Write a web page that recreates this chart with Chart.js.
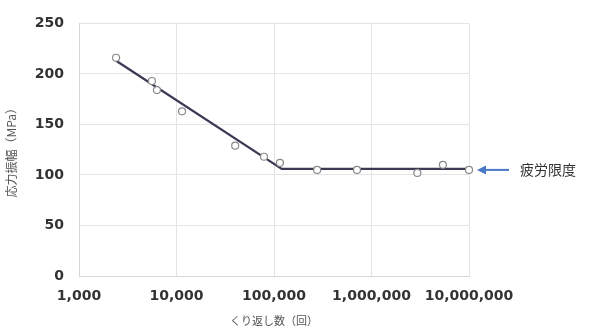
<!DOCTYPE html>
<html lang="ja">
<head>
    <meta charset="UTF-8">
    <title>S-N曲線</title>
    <script src="https://cdn.jsdelivr.net/npm/chart.js@4.4.1/dist/chart.umd.min.js"></script>
    <style>
        body {
            margin: 0;
            background: #ffffff;
        }
        .chart-box {
            width: 593px;
            height: 327px;
        }
    </style>
</head>
<body>
    <div class="chart-box">
        <canvas id="snChart"></canvas>
    </div>

    <script>
        // 試験データ（くり返し数, 応力振幅）
        const testCycles = [2400, 5600, 6300, 11400, 40000, 79000, 115000, 277000, 710000, 2950000, 5400000, 10000000];
        const testStress = [216, 193, 184, 163, 129, 118, 112, 105, 105, 102, 110, 105];

        // S-N曲線（折れ線）
        const curveCycles = [2400, 120000, 10000000];
        const curveStress = [213, 106, 106];

        const fatigueLimit = 106;
        const fatigueLabel = '疲労限度';

        const yTicks = [0, 50, 100, 150, 200, 250];
        const xTicks = [1000, 10000, 100000, 1000000, 10000000];

        const tickFont = { family: 'DejaVu Sans', size: 14, weight: 'bold' };

        // 矢印と「疲労限度」の注記
        const limitArrow = {
            id: 'limitArrow',
            afterDraw(chart) {
                const ctx = chart.ctx;
                const area = chart.chartArea;
                const y = chart.scales.y.getPixelForValue(fatigueLimit) + 1;
                const x0 = area.right + 8;
                const x1 = area.right + 40;
                ctx.save();
                ctx.strokeStyle = '#4a78c8';
                ctx.fillStyle = '#4a78c8';
                ctx.lineWidth = 2;
                ctx.beginPath();
                ctx.moveTo(x0 + 6, y);
                ctx.lineTo(x1, y);
                ctx.stroke();
                ctx.beginPath();
                ctx.moveTo(x0, y);
                ctx.lineTo(x0 + 9, y - 4.5);
                ctx.lineTo(x0 + 9, y + 4.5);
                ctx.closePath();
                ctx.fill();
                ctx.fillStyle = '#333333';
                ctx.font = '14px "Noto Sans CJK JP"';
                ctx.textBaseline = 'middle';
                ctx.fillText(fatigueLabel, area.right + 51, y);
                ctx.restore();
            }
        };

        new Chart(document.getElementById('snChart'), {
            type: 'scatter',
            data: {
                datasets: [
                    {
                        label: 'S-N曲線',
                        data: curveCycles.map((c, i) => ({ x: c, y: curveStress[i] })),
                        showLine: true,
                        borderColor: '#3a3a55',
                        borderWidth: 2.2,
                        pointRadius: 0,
                        clip: false,
                        order: 2
                    },
                    {
                        label: '試験データ',
                        data: testCycles.map((c, i) => ({ x: c, y: testStress[i] })),
                        pointStyle: 'circle',
                        pointRadius: 3.5,
                        pointBorderWidth: 1.2,
                        pointBorderColor: '#8a8a8a',
                        pointBackgroundColor: '#ffffff',
                        clip: false,
                        order: 1
                    }
                ]
            },
            options: {
                responsive: true,
                maintainAspectRatio: false,
                animation: false,
                layout: {
                    padding: { top: 21, right: 124, bottom: 0, left: 0 }
                },
                plugins: {
                    legend: { display: false },
                    tooltip: { enabled: false }
                },
                scales: {
                    x: {
                        type: 'logarithmic',
                        min: 1000,
                        max: 10000000,
                        afterBuildTicks: scale => {
                            scale.ticks = xTicks.map(v => ({ value: v }));
                        },
                        afterFit: scale => { scale.height = 51; },
                        ticks: {
                            font: tickFont,
                            color: '#333333',
                            padding: 12,
                            maxRotation: 0,
                            autoSkip: false,
                            callback: v => Number(v).toLocaleString('en-US')
                        },
                        grid: { color: '#e4e4e4', drawTicks: false },
                        border: { color: '#d6d6d6' },
                        title: {
                            display: true,
                            text: 'くり返し数（回）',
                            font: { family: 'Noto Sans CJK JP', size: 11 },
                            color: '#555555',
                            padding: { top: 0, bottom: 0 }
                        }
                    },
                    y: {
                        min: 0,
                        max: 250,
                        afterBuildTicks: scale => {
                            scale.ticks = yTicks.map(v => ({ value: v }));
                        },
                        afterFit: scale => { scale.width = 79; },
                        ticks: {
                            font: tickFont,
                            color: '#333333',
                            padding: 15
                        },
                        grid: { color: '#e4e4e4', drawTicks: false },
                        border: { color: '#d6d6d6' },
                        title: {
                            display: true,
                            text: '応力振幅（MPa）',
                            font: { family: 'Noto Sans CJK JP', size: 12 },
                            color: '#555555',
                            padding: { top: 4, bottom: 4 }
                        }
                    }
                }
            },
            plugins: [limitArrow]
        });
    </script>
</body>
</html>
